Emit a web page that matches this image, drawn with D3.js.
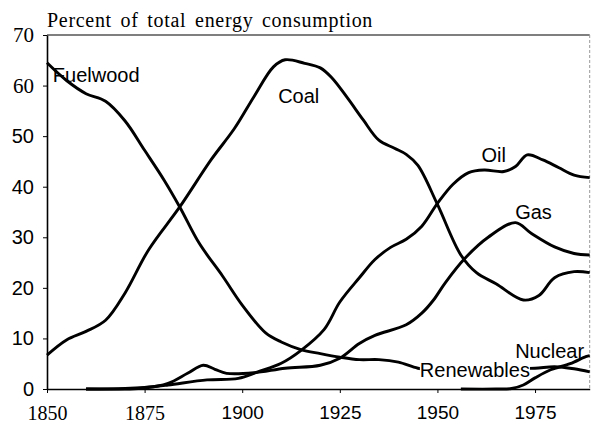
<!DOCTYPE html>
<html>
<head>
<meta charset="utf-8">
<script src="https://cdn.jsdelivr.net/npm/d3@7"></script>
<style>
  body { margin: 0; background: #fff; }
  svg { display: block; }
  .sans { font-family: "Liberation Sans", Arial, sans-serif; }
  .serif { font-family: "Liberation Serif", "Times New Roman", serif; }
</style>
</head>
<body>
<div id="chart"></div>
<script>
// [year, percent of total energy consumption]
var fuelwood = [
  [1850, 64.5], [1855, 61.0], [1860, 58.4], [1865, 56.9], [1870, 53.0], [1875, 47.2],
  [1880, 41.3], [1884, 36.0], [1889, 28.8], [1895, 22.3], [1900, 16.6], [1906, 11.1],
  [1910, 9.3], [1915, 7.8], [1920, 7.0], [1925, 6.3], [1930, 5.8], [1935, 5.8],
  [1940, 5.3], [1945, 4.1], [1950, 3.6], [1955, 3.6], [1960, 3.8], [1965, 4.0],
  [1970, 4.1], [1975, 4.1], [1980, 4.4], [1985, 4.0], [1989, 3.4]
];

var coal = [
  [1850, 6.7], [1855, 9.7], [1860, 11.4], [1865, 13.6], [1870, 19.0], [1876, 27.5],
  [1884, 36.0], [1892, 45.3], [1898, 51.5], [1903, 57.8], [1908, 63.7], [1911, 65.1],
  [1916, 64.4], [1920, 63.5], [1923, 61.5], [1927, 57.5], [1931, 53.2], [1935, 49.2],
  [1939, 47.6], [1942, 46.4], [1945, 44.2], [1950, 36.5], [1956, 26.5], [1960, 23.0],
  [1965, 20.8], [1972, 17.6], [1976, 18.5], [1980, 22.0], [1985, 23.2], [1989, 23.0]
];

var oil = [
  [1860, 0.0], [1870, 0.1], [1875, 0.3], [1881, 0.8], [1891, 1.8], [1899, 2.1],
  [1904, 3.4], [1910, 5.1], [1915, 7.6], [1921, 11.8], [1925, 17.2], [1930, 22.0],
  [1934, 25.6], [1938, 28.0], [1942, 29.6], [1946, 32.2], [1950, 36.7], [1954, 40.5],
  [1958, 42.8], [1962, 43.3], [1967, 43.0], [1970, 44.0], [1973, 46.3], [1977, 45.3],
  [1981, 43.8], [1985, 42.3], [1989, 41.8]
];

var gas = [
  [1860, 0.0], [1875, 0.2], [1881, 1.1], [1886, 3.1], [1890, 4.7], [1893, 3.9],
  [1896, 3.1], [1903, 3.2], [1911, 4.1], [1920, 4.7], [1925, 6.1], [1930, 9.0],
  [1934, 10.6], [1942, 12.7], [1946, 15.0], [1949, 17.6], [1952, 21.0], [1957, 25.8],
  [1963, 30.0], [1970, 32.9], [1974, 30.8], [1980, 28.1], [1985, 26.8], [1989, 26.5]
];

var nuclear = [
  [1956, 0.0], [1965, 0.0], [1969, 0.1], [1972, 0.8], [1975, 2.2], [1979, 3.8],
  [1984, 5.0], [1988, 6.4], [1989, 6.6]
];

var series = [fuelwood, coal, oil, gas, nuclear];

// label text with the year / value where its baseline starts
var labels = [
  { text: "Fuelwood", year: 1851.5, value: 60.7 },
  { text: "Coal", year: 1909.2, value: 56.6 },
  { text: "Oil", year: 1961.3, value: 44.9 },
  { text: "Gas", year: 1969.9, value: 33.6 },
  { text: "Nuclear", year: 1969.9, value: 6.1 },
  { text: "Renewables", year: 1945.5, value: 2.4, boxed: true }
];

var yTicks = [0, 10, 20, 30, 40, 50, 60, 70];
var xTicks = [1850, 1875, 1900, 1925, 1950, 1975];
var serifTicks = [70, 60, 1850, 1875];
var title = "Percent of total energy  consumption";

var width = 592, height = 424;

var svg = d3.select("#chart").append("svg")
            .attr("width", width)
            .attr("height", height);

var x = d3.scaleLinear()
          .domain([1850, 1989])
          .range([47, 589.7]);

var y = d3.scaleLinear()
          .domain([0, 70])
          .range([389, 35]);

// frame: top and faint right edge
svg.append("line")
   .attr("x1", x(1850)).attr("x2", x(1989))
   .attr("y1", y(70)).attr("y2", y(70))
   .attr("stroke", "#000").attr("stroke-width", 1.2);

svg.append("line")
   .attr("x1", x(1989)).attr("x2", x(1989))
   .attr("y1", y(70)).attr("y2", y(0))
   .attr("stroke", "#999").attr("stroke-width", 1)
   .attr("stroke-dasharray", "3,2");

var yAxis = svg.append("g")
   .attr("transform", "translate(" + x(1850) + ",0)")
   .call(d3.axisLeft(y).tickValues(yTicks).tickSize(4).tickSizeOuter(0).tickPadding(9));

var xAxis = svg.append("g")
   .attr("transform", "translate(0," + y(0) + ")")
   .call(d3.axisBottom(x).tickValues(xTicks).tickFormat(d3.format("d"))
           .tickSize(4).tickSizeOuter(0).tickPadding(13));

[yAxis, xAxis].forEach(function(ax) {
  ax.select(".domain").attr("stroke-width", 1.6);
  ax.selectAll(".tick line").attr("stroke-width", 1);
  ax.selectAll(".tick text")
    .attr("fill", "#000")
    .attr("class", d => serifTicks.indexOf(d) >= 0 ? "serif" : "sans");
});

yAxis.selectAll(".tick text")
     .style("font-size", d => serifTicks.indexOf(d) >= 0 ? "21px" : "20px");

xAxis.selectAll(".tick text")
     .style("font-size", d => serifTicks.indexOf(d) >= 0 ? "20px" : "19px");

svg.append("text")
   .attr("class", "serif")
   .attr("x", x(1850))
   .attr("y", 27)
   .style("font-size", "20px")
   .style("letter-spacing", "0.7px")
   .style("word-spacing", "3px")
   .text(title);

var line = d3.line()
             .x(d => x(d[0]))
             .y(d => y(d[1]))
             .curve(d3.curveCatmullRom.alpha(0.5));

svg.selectAll("path.series")
   .data(series)
   .enter().append("path")
   .attr("class", "series")
   .attr("d", line)
   .attr("fill", "none")
   .attr("stroke", "#000")
   .attr("stroke-width", 2.9)
   .attr("stroke-linejoin", "round");

var lab = svg.selectAll("g.label")
             .data(labels)
             .enter().append("g")
             .attr("class", "label");

lab.append("text")
   .attr("class", "sans")
   .attr("x", d => x(d.year))
   .attr("y", d => y(d.value))
   .style("font-size", "20px")
   .attr("fill", "#000")
   .text(d => d.text);

lab.filter(d => d.boxed).each(function() {
  var g = d3.select(this);
  var b = g.select("text").node().getBBox();
  g.insert("rect", "text")
   .attr("x", b.x).attr("y", b.y + 3)
   .attr("width", b.width).attr("height", b.height - 6)
   .attr("fill", "#fff");
});
</script>
</body>
</html>
